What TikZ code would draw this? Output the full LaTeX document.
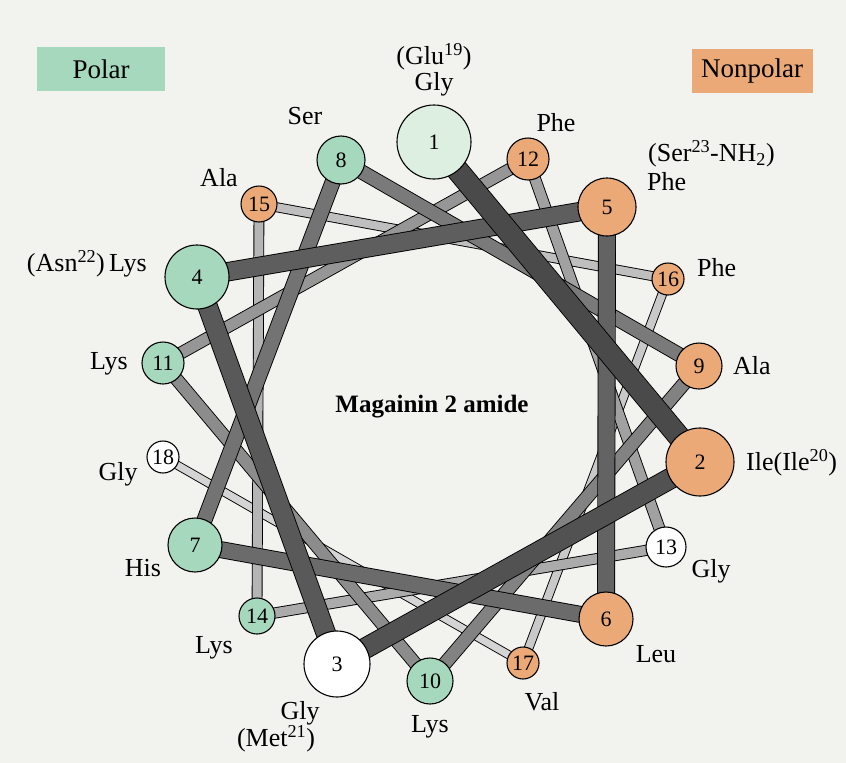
\documentclass[tikz,border=0pt]{standalone}
\usepackage{fontspec}
\setmainfont{Liberation Serif}
\pgfdeclarelayer{paperlayer}
\pgfdeclarelayer{barlayer}
\pgfsetlayers{paperlayer,barlayer,main}
\definecolor{polar}{HTML}{A6D8BE}
\definecolor{polarpale}{HTML}{DDEFE0}
\definecolor{nonpolar}{HTML}{EAA976}
\definecolor{paper}{HTML}{F2F2EF}
\tikzset{
  res/.style={circle, draw=black, line width=1.1pt, inner sep=0pt, font=\fontsize{22}{22}\selectfont},
  pol/.style={res, fill=polar},
  npol/.style={res, fill=nonpolar},
  neut/.style={res, fill=white},
  lab/.style={inner sep=0pt, font=\fontsize{26}{26}\selectfont},
  keybox/.style={inner sep=0pt, font=\fontsize{27}{27}\selectfont},
  bar/.style 2 args={draw=black, line width=0.9pt, double=#2, double distance=#1},
}
\begin{document}
\begin{tikzpicture}[x=1pt, y=-1pt]
\begin{pgfonlayer}{paperlayer}
  \fill[paper] (0,0) rectangle (846,763);
\end{pgfonlayer}
\useasboundingbox (0,0) rectangle (846,763);

% key boxes
\node[keybox, fill=polar, minimum width=128pt, minimum height=44pt] (kp) at (101,69) {Polar};
\node[keybox, fill=nonpolar, minimum width=121pt, minimum height=44pt] (kn) at (752,71) {Nonpolar};

% residues
\node[res, fill=polarpale, minimum size=74pt] (r1) at (434,142) {1};
\node[npol, minimum size=68pt] (r2) at (700,462) {2};
\node[neut, minimum size=66pt] (r3) at (337,664) {3};
\node[pol, minimum size=64pt] (r4) at (197,277) {4};
\node[npol, minimum size=58pt] (r5) at (607,207) {5};
\node[npol, minimum size=54pt] (r6) at (606,619) {6};
\node[pol, minimum size=54pt] (r7) at (195,545) {7};
\node[pol, minimum size=48pt] (r8) at (341,160) {8};
\node[npol, minimum size=46pt] (r9) at (699,366) {9};
\node[pol, minimum size=46pt] (r10) at (430,681) {10};
\node[pol, minimum size=42pt] (r11) at (163,363) {11};
\node[npol, minimum size=42pt] (r12) at (528,159) {12};
\node[neut, minimum size=40pt] (r13) at (666,547) {13};
\node[pol, minimum size=36pt] (r14) at (257,616) {14};
\node[npol, minimum size=36pt] (r15) at (259,204) {15};
\node[npol, minimum size=32pt] (r16) at (668,279) {16};
\node[npol, minimum size=32pt] (r17) at (523,663) {17};
\node[neut, minimum size=32pt] (r18) at (163,457) {18};

% bars (higher numbers underneath)
\begin{pgfonlayer}{barlayer}
  \draw[bar={7.2pt}{black!17}] (r17.center) -- (r18.center);
  \draw[bar={7.8pt}{black!21}] (r16.center) -- (r17.center);
  \draw[bar={8.2pt}{black!25}] (r15.center) -- (r16.center);
  \draw[bar={9pt}{black!29}] (r14.center) -- (r15.center);
  \draw[bar={9.4pt}{black!33}] (r13.center) -- (r14.center);
  \draw[bar={10.2pt}{black!37}] (r12.center) -- (r13.center);
  \draw[bar={11pt}{black!41}] (r11.center) -- (r12.center);
  \draw[bar={11.7pt}{black!45}] (r10.center) -- (r11.center);
  \draw[bar={12.4pt}{black!49}] (r9.center) -- (r10.center);
  \draw[bar={13.2pt}{black!52}] (r8.center) -- (r9.center);
  \draw[bar={14.2pt}{black!55}] (r7.center) -- (r8.center);
  \draw[bar={15.2pt}{black!58}] (r6.center) -- (r7.center);
  \draw[bar={16.2pt}{black!61}] (r5.center) -- (r6.center);
  \draw[bar={17.6pt}{black!63}] (r4.center) -- (r5.center);
  \draw[bar={18.6pt}{black!65}] (r3.center) -- (r4.center);
  \draw[bar={19.6pt}{black!68}] (r2.center) -- (r3.center);
  \draw[bar={20.8pt}{black!71}] (r1.center) -- (r2.center);
\end{pgfonlayer}

% labels
\node[lab] (t1a) at (434,57) {(Glu\textsuperscript{19})};
\node[lab] (t1b) at (434,84) {Gly};
\node[lab] (t8) at (305,116) {Ser};
\node[lab] (t12) at (556,123) {Phe};
\node[lab, anchor=west] (t5a) at (648,154) {(Ser\textsuperscript{23}-NH\textsubscript{2})};
\node[lab, anchor=west] (t5b) at (647,182) {Phe};
\node[lab] (t15) at (219,178) {Ala};
\node[lab, anchor=east] (t4) at (147,264) {(Asn\textsuperscript{22})\,Lys};
\node[lab, anchor=west] (t16) at (697,268) {Phe};
\node[lab] (t11) at (109,364) {Lys};
\node[lab, anchor=west] (t9) at (733,366) {Ala};
\node[inner sep=0pt, font=\fontsize{25}{25}\selectfont\bfseries] (title) at (432,407) {Magainin 2 amide};
\node[lab] (t18) at (118,474) {Gly};
\node[lab, anchor=west] (t2) at (746,463) {Ile(Ile\textsuperscript{20})};
\node[lab] (t7) at (143,568) {His};
\node[lab] (t13) at (711,571) {Gly};
\node[lab] (t14) at (214,648) {Lys};
\node[lab] (t6) at (656,654) {Leu};
\node[lab] (t17) at (542,702) {Val};
\node[lab] (t3a) at (300,713) {Gly};
\node[lab] (t3b) at (276,739) {(Met\textsuperscript{21})};
\node[lab] (t10) at (430,727) {Lys};
\end{tikzpicture}
\end{document}
